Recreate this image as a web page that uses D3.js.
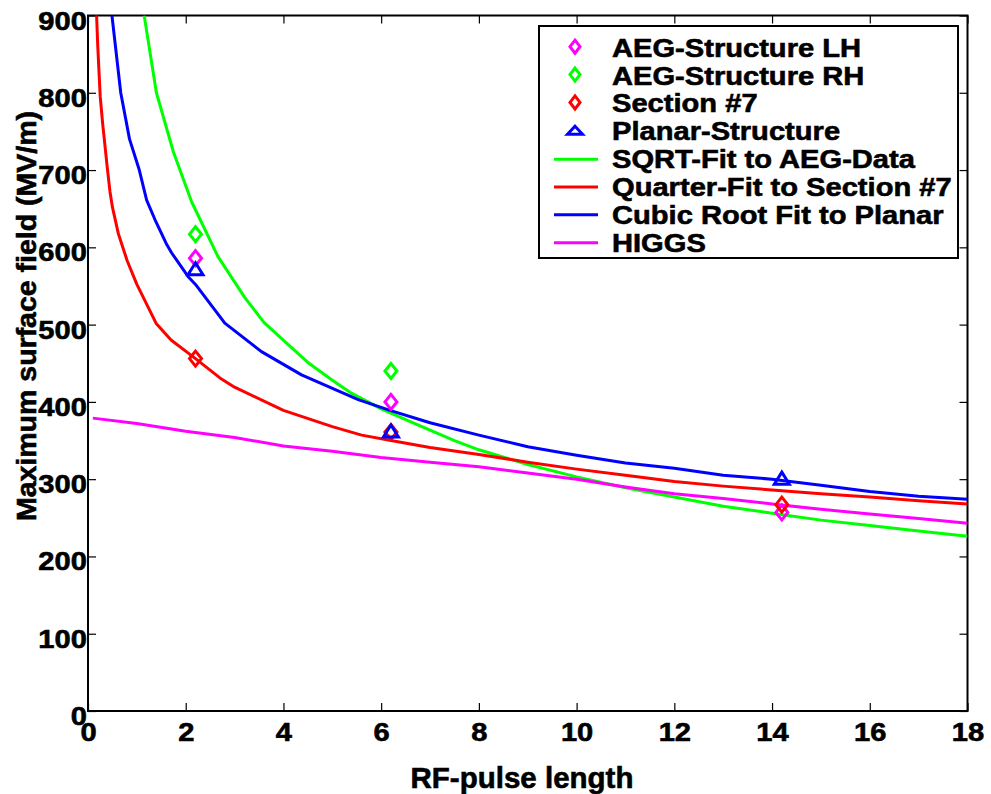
<!DOCTYPE html>
<html>
<head>
<meta charset="utf-8">
<script src="https://cdn.jsdelivr.net/npm/d3@7"></script>
<style>
  html, body { margin: 0; padding: 0; background: #fff; }
  svg { display: block; font-family: "Liberation Sans", Arial, Helvetica, sans-serif; font-weight: bold; }
  text { stroke: #000; stroke-width: 0.6px; fill: #000; }
</style>
</head>
<body>
<svg id="chart" width="991" height="794"></svg>
<script>
// ---- Data ----
const xTicks = [0, 2, 4, 6, 8, 10, 12, 14, 16, 18];
const yTicks = [0, 100, 200, 300, 400, 500, 600, 700, 800, 900];

// measured points
const pulseX = [2.2, 6.2, 14.2];
const aegLH = [586, 400, 257];
const aegRH = [617, 440, null];
const section7 = [456, 361, 267];
const planar = [571, 361, 300];

// fit curves
const sqrtX = [1.15, 1.4, 1.75, 2.12, 2.66, 3.21, 3.6, 4.03, 4.5, 5, 5.4, 6, 6.69, 7.5, 8, 9, 10, 11, 12, 13, 14, 15, 16, 17, 18];
const sqrtY = [900, 800, 723, 659, 588, 535, 503, 478, 451, 428, 411, 391, 372, 350, 338, 319, 303, 289, 277, 265, 256, 247, 240, 233, 226];

const quarterX = [0.17, 0.2, 0.25, 0.3, 0.4, 0.45, 0.5, 0.62, 0.8, 1, 1.4, 1.7, 2.2, 2.7, 3, 4, 5, 5.6, 6.2, 7, 8, 9, 10, 11, 12, 13, 14, 15, 16, 17, 18];
const quarterY = [910, 860, 795, 760, 700, 672, 652, 618, 583, 552, 501, 480, 456, 431, 419, 389, 368, 357, 350, 341, 332, 322, 313, 305, 297, 291, 286, 281, 277, 272, 268];

const cubicX = [0.49, 0.67, 0.85, 1.05, 1.2, 1.37, 1.6, 1.71, 2.05, 2.2, 2.8, 3.55, 4.37, 5.53, 6.18, 7, 8, 9, 10, 11, 12, 13, 14, 15, 16, 17, 18];
const cubicY = [900, 800, 740, 700, 661, 636, 605, 593, 562, 552, 502, 465, 435, 403, 389, 373, 357, 342, 331, 321, 314, 305, 300, 292, 284, 278, 274];

const higgsX = [0.1, 1, 2, 3, 4, 5, 6, 7, 8, 9, 10, 11, 12, 13, 14, 15, 16, 17, 18];
const higgsY = [379, 372, 362, 354, 343, 336, 328, 322, 316, 308, 300, 290, 281, 275, 268, 261, 255, 249, 243];

const legendLabels = ["AEG-Structure LH", "AEG-Structure RH", "Section #7", "Planar-Structure",
  "SQRT-Fit to AEG-Data", "Quarter-Fit to Section #7", "Cubic Root Fit to Planar", "HIGGS"];
const legendColors = ["#ff00ff", "#00ff00", "#ff0000", "#0000ff", "#00ff00", "#ff0000", "#0000ff", "#ff00ff"];
const legendKinds = ["diamond", "diamond", "diamond", "triangle", "line", "line", "line", "line"];

// ---- Layout ----
const svg = d3.select("#chart");
const L = 88, R = 967.5, T = 15.5, B = 711;
const x = d3.scaleLinear().domain([0, 18]).range([L, R]);
const y = d3.scaleLinear().domain([0, 900]).range([B, T]);

svg.append("rect").attr("width", 991).attr("height", 794).attr("fill", "#fff").style("stroke", "none");

svg.append("defs").append("clipPath").attr("id", "plotclip")
  .append("rect").attr("x", L).attr("y", T).attr("width", R - L).attr("height", B - T);

// axes with inward ticks (MATLAB style box)
const fontTick = 26;
const gx = svg.append("g").attr("transform", `translate(0,${B})`)
  .call(d3.axisBottom(x).tickValues(xTicks).tickSize(-8).tickPadding(12).tickFormat(d3.format("d")));
const gy = svg.append("g").attr("transform", `translate(${L},0)`)
  .call(d3.axisLeft(y).tickValues(yTicks).tickSize(-8).tickPadding(1).tickFormat(d3.format("d")));
const gxt = svg.append("g").attr("transform", `translate(0,${T})`)
  .call(d3.axisTop(x).tickValues(xTicks).tickSize(-8).tickFormat(""));
const gyr = svg.append("g").attr("transform", `translate(${R},0)`)
  .call(d3.axisRight(y).tickValues(yTicks).tickSize(-8).tickFormat(""));

[gx, gy, gxt, gyr].forEach(g => {
  g.select(".domain").remove();
  g.selectAll(".tick line").attr("stroke", "#000").attr("stroke-width", 1.2);
  g.selectAll(".tick text").attr("fill", "#000").style("font-size", fontTick + "px")
    .style("font-weight", "bold").style("font-family", '"Liberation Sans", Arial, sans-serif')
    .attr("transform", "scale(1.12,1)");
});
gy.selectAll(".tick text").attr("dy", "0.52em");

// frame
svg.append("rect").attr("x", L).attr("y", T).attr("width", R - L).attr("height", B - T)
  .attr("fill", "none").attr("stroke", "#000").attr("stroke-width", 2);

// curves
const lineGen = d3.line().x(d => x(d[0])).y(d => y(d[1]));
const curves = [
  { xs: sqrtX, ys: sqrtY, c: "#00ff00" },
  { xs: quarterX, ys: quarterY, c: "#ff0000" },
  { xs: cubicX, ys: cubicY, c: "#0000ff" },
  { xs: higgsX, ys: higgsY, c: "#ff00ff" }
];
const plot = svg.append("g").attr("clip-path", "url(#plotclip)");
curves.forEach(cv => {
  plot.append("path").datum(cv.xs.map((v, i) => [v, cv.ys[i]]))
    .attr("d", lineGen).attr("fill", "none").attr("stroke", cv.c)
    .attr("stroke-width", 3).attr("stroke-linejoin", "round");
});

// markers
const diamondPath = "M0,-7.5 L6,0 L0,7.5 L-6,0 Z";
const trianglePath = "M0,-7 L7.5,5 L-7.5,5 Z";
const pointSets = [
  { ys: aegLH, c: "#ff00ff", p: diamondPath },
  { ys: aegRH, c: "#00ff00", p: diamondPath },
  { ys: section7, c: "#ff0000", p: diamondPath },
  { ys: planar, c: "#0000ff", p: trianglePath }
];
pointSets.forEach(ps => {
  plot.selectAll(null).data(pulseX.map((v, i) => [v, ps.ys[i]]).filter(d => d[1] != null))
    .enter().append("path")
    .attr("transform", d => `translate(${x(d[0])},${y(d[1])})`)
    .attr("d", ps.p).attr("fill", "none").attr("stroke", ps.c).attr("stroke-width", 3);
});

// axis labels
svg.append("text").attr("x", 522).attr("y", 788).attr("text-anchor", "middle")
  .style("font-size", "29.5px").text("RF-pulse length");
svg.append("text").attr("transform", "translate(36,316) rotate(-90)").attr("text-anchor", "middle")
  .style("font-size", "28.5px").text("Maximum surface field (MV/m)");

// legend
const lg = svg.append("g");
lg.append("rect").attr("x", 539).attr("y", 26).attr("width", 419).attr("height", 232)
  .attr("fill", "#fff").attr("stroke", "#000").attr("stroke-width", 2);
const rowY0 = 46.7, rowDy = 27.86;
legendLabels.forEach((lab, i) => {
  const cy = rowY0 + i * rowDy;
  const k = legendKinds[i];
  if (k === "line") {
    lg.append("line").attr("x1", 554).attr("x2", 598).attr("y1", cy + 1).attr("y2", cy + 1)
      .attr("stroke", legendColors[i]).attr("stroke-width", 3);
  } else {
    lg.append("path").attr("transform", `translate(575,${cy})`)
      .attr("d", k === "diamond" ? "M0,-6.5 L5,0 L0,6.5 L-5,0 Z" : "M0,-4 L7.5,4 L-7.5,4 Z")
      .attr("fill", "none").attr("stroke", legendColors[i]).attr("stroke-width", 3);
  }
  lg.append("text").attr("transform", `translate(612,${cy + 10}) scale(1.12,1)`)
    .style("font-size", "26px").text(lab);
});
</script>
</body>
</html>
